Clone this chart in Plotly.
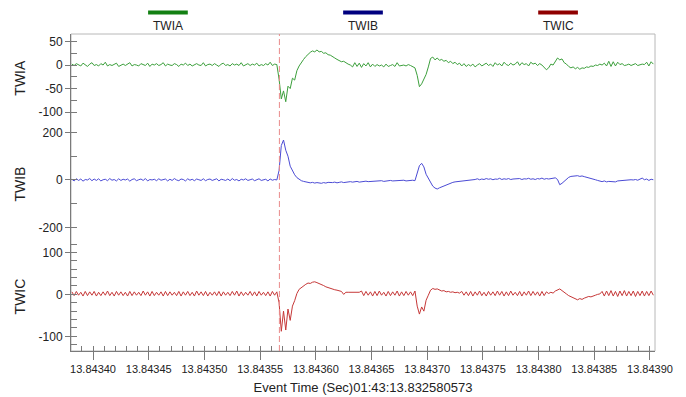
import numpy as np
import plotly.graph_objects as go

# ---- record data -----------------------------------------------------------
T0 = 13.843381        # time of first sample (s)
DT = 2e-6             # sample interval (s)
TRIGGER = 13.8435673  # trigger instant (s)

CHANNELS = ["TWIA", "TWIB", "TWIC"]

twia = [
    2, -1, 3, 0, -2, 4, 1, -3, 2, 5,
    -1, 1, -2, 3, 0, 6, -2, 1, -1, 2,
    4, -3, 0, 2, -1, 3, 5, -2, 1, 0,
    -2, 3, 1, -1, 4, -3, 2, 0, 3, -1,
    1, 5, -2, 2, 0, -1, 3, 1, -3, 2,
    0, 4, -1, 2, -2, 1, 3, 0, -1, 5,
    -2, 1, 2, -1, 3, 0, -3, 2, 4, -1,
    1, -2, 3, 0, 2, -1, 5, -2, 1, 3,
    -1, 2, 0, 4, -2, 1, -1, 3, 0, 6,
    -1, 2, 1, -30, -72, -55, -78, -45, -50, -28,
    -32, -12, -2, 6, 12, 18, 23, 27, 30, 28,
    32, 28, 29, 25, 26, 22, 21, 17, 15, 12,
    10, 7, 8, 4, 2, 0, -4, 5, -3, 4,
    -5, 3, -2, 5, -4, 2, -3, 1, -2, 0,
    -4, 2, -3, -1, 1, -3, 5, -2, -1, 0,
    -2, 1, -1, -3, -6, -22, -46, -40, -30, -20,
    -4, 14, 17, 11, 15, 10, 12, 8, 10, 5,
    8, 3, 6, 1, 4, -2, 3, -3, 1, -2,
    2, -4, 0, 3, -2, 1, 4, -1, 2, -3,
    5, 0, 3, -2, 6, 1, -1, 4, 0, 2,
    7, -1, 5, 1, 3, -2, 6, 2, 4, -1,
    3, 0, -5, -10, -6, 2, 0, 8, 15, 11,
    13, 5, 2, -3, -6, -4, -8, -5, -9, -6,
    -7, -4, -5, -2, -3, 0, -1, 2, 0, 4,
    -2, 8, -3, 7, -2, 6, 1, 3, -1, 0,
    2, -1, 1, 3, -1, 0, 2, 1, 6, -2,
    7, 2,
]

twib = [
    3, -4, 5, -2, 4, -5, 2, 0, 6, -3,
    4, -2, 5, -4, 1, 3, -3, 6, -1, 2,
    -4, 5, -2, 3, 0, 4, -5, 2, 5, -3,
    1, 4, -2, 6, -4, 2, 0, 3, -3, 5,
    -1, 2, 4, -4, 3, -2, 6, 0, -3, 4,
    2, -4, 5, -1, 3, -3, 4, 1, -2, 5,
    -3, 2, 4, -2, 0, 5, -4, 3, 1, -2,
    4, -3, 6, -1, 2, -4, 3, 0, 5, -2,
    1, 4, -3, 2, 5, -2, 0, 3, -4, 4,
    -1, 2, 0, 40, 145, 168, 125, 100, 58, 36,
    22, 10, 3, -3, -6, -9, -11, -12, -10, -13,
    -11, -12, -14, -11, -13, -10, -12, -11, -9, -12,
    -10, -8, -11, -9, -10, -7, -9, -8, -6, -9,
    -7, -8, -5, -7, -6, -8, -4, -6, -5, -3,
    -6, -4, -5, -2, -4, -3, -5, -2, -3, -1,
    -4, -2, -3, -1, -3, 25, 60, 70, 55, 24,
    5, -10, -26, -34, -38, -33, -29, -24, -20, -16,
    -12, -10, -8, -7, -5, -6, -3, -4, -2, -1,
    0, 2, 5, 1, 4, 2, 6, 3, 5, 1,
    4, 3, 7, 2, 5, 3, 6, 2, 4, 5,
    3, 6, 2, 5, 4, 7, 3, 5, 2, 6,
    4, 8, 3, 6, 4, 5, 7, 9, 2, -20,
    -14, -6, 4, 11, 15, 17, 16, 18, 15, 17,
    14, 12, 9, 6, 3, 1, -2, -5, -7, -4,
    -8, -6, -7, -5, -8, -4, -3, -1, -2, 0,
    -1, 1, 0, 2, -1, 3, 8, 1, 4, -2,
    3, 1,
]

twic = [
    6, -3, 7, -2, 5, -4, 7, -3, 6, -2,
    7, -4, 5, -3, 6, -2, 8, -3, 5, -4,
    7, -2, 6, -3, 5, -4, 7, -3, 6, -2,
    5, -3, 8, -2, 6, -4, 7, -3, 5, -2,
    6, -4, 7, -3, 6, -2, 5, -3, 7, -4,
    6, -2, 7, -3, 5, -4, 8, -2, 6, -3,
    7, -4, 5, -2, 6, -3, 7, -4, 6, -2,
    5, -3, 7, -2, 8, -4, 6, -3, 5, -2,
    7, -3, 6, -4, 7, -2, 5, -3, 6, -4,
    7, -2, 6, -20, -88, -40, -85, -35, -62, -28,
    -15, 2, 12, 16, 22, 24, 27, 26, 29, 30,
    28, 26, 24, 21, 18, 16, 15, 13, 11, 10,
    8, 7, 0, 5, 5, 5, 5, 5, 5, 5,
    8, -3, 7, -2, 6, -4, 7, -3, 8, -2,
    5, -4, 7, -3, 6, -2, 8, -4, 6, -3,
    7, -2, 6, -3, 8, -28, -47, -30, -40, -14,
    -2, 10, 14, 12, 13, 10, 8, 9, 6, 7,
    5, 6, 4, 5, 3, 7, -2, 6, -3, 7,
    -4, 6, -2, 8, -3, 5, -4, 7, -2, 6,
    -3, 8, -2, 7, -4, 6, -3, 8, -2, 5,
    -3, 7, -4, 6, -2, 8, -3, 7, -2, 6,
    -4, 7, -3, 6, 2, 5, 3, 8, 10, 13,
    9, 4, 1, -3, -6, -9, -11, -13, -10, -12,
    -9, -7, -5, -6, -3, -2, 0, 1, 7, -4,
    8, -3, 9, -4, 7, -5, 8, -3, 9, -4,
    7, -3, 8, -5, 7, -3, 8, -4, 7, -3,
    8, -2,
]

SERIES = [twia, twib, twic]

# per-channel vertical scaling and labelled ticks
Y_RANGES = [[-118, 66], [-250, 250], [-135, 131]]
Y_TICKS = [[50, 0, -50, -100], [200, 0, -200], [100, 0, -100]]
Y_MINOR = [25, 100, 20]
Y_DOMAINS = [[0.727, 1.0], [0.352, 0.727], [0.0, 0.352]]

X_RANGE = [13.8433802, 13.8439045]
X_TITLE = "Event Time (Sec)01:43:13.832580573"

LINE_COLORS = ["#3c9f3c", "#4b4bd4", "#c63838"]
KEY_COLORS = ["#138013", "#00007f", "#8f0000"]

FONT = "Liberation Sans, Arial, sans-serif"
AXIS_GREY = "#7a7a7a"
FRAME_GREY = "#b8b8b8"

# ---- figure ----------------------------------------------------------------
fig = go.Figure()

axis_names = ["y", "y2", "y3"]
for name, vals, color, yname in zip(CHANNELS, SERIES, LINE_COLORS, axis_names):
    t = T0 + DT * np.arange(len(vals))
    fig.add_trace(go.Scatter(
        x=t, y=vals, mode="lines", name=name, yaxis=yname, xaxis="x",
        line=dict(color=color, width=1), showlegend=False,
        hoverinfo="skip",
    ))

layout_axes = {}
for k, yname in enumerate(axis_names):
    key = "yaxis" if k == 0 else f"yaxis{k + 1}"
    layout_axes[key] = dict(
        domain=Y_DOMAINS[k], range=Y_RANGES[k], anchor="x", automargin=False,
        tickmode="array", tickvals=Y_TICKS[k],
        ticktext=[str(v) for v in Y_TICKS[k]],
        showline=True, linecolor=AXIS_GREY, linewidth=1,
        ticks="outside", ticklen=5, tickcolor=AXIS_GREY, tickwidth=1,
        minor=dict(ticks="inside", ticklen=6, dtick=Y_MINOR[k],
                   tick0=0, tickcolor=AXIS_GREY, showgrid=False),
        showgrid=False, zeroline=False,
        tickfont=dict(family=FONT, size=12, color="#222222"),
    )

fig.update_layout(
    width=686, height=397,
    margin=dict(l=71, r=31, t=34, b=46),
    paper_bgcolor="white", plot_bgcolor="white",
    font=dict(family=FONT, color="#222222"),
    xaxis=dict(
        domain=[0, 1], range=X_RANGE, anchor="y3", automargin=False,
        tickmode="linear", tick0=13.8434, dtick=5e-5, tickformat=".5f",
        showline=True, linecolor=AXIS_GREY, linewidth=1,
        ticks="outside", ticklen=8, tickcolor=AXIS_GREY,
        minor=dict(ticks="inside", ticklen=5, dtick=1e-5,
                   tickcolor=AXIS_GREY, showgrid=False),
        showgrid=False, zeroline=False,
        tickfont=dict(family=FONT, size=11, color="#222222"),
        title=dict(text=X_TITLE, standoff=8,
                   font=dict(family=FONT, size=13, color="#222222")),
    ),
    **layout_axes,
)

# plot frame and trigger marker
fig.add_shape(type="rect", xref="paper", yref="paper", x0=0, x1=1, y0=0, y1=1,
              line=dict(color=FRAME_GREY, width=1), layer="below")
fig.add_shape(type="line", xref="x", yref="paper", x0=TRIGGER, x1=TRIGGER,
              y0=0, y1=1, line=dict(color="#e98a8a", width=1, dash="6px,3px"))

# channel titles on the left
title_y = [0.861, 0.527, 0.171]
for name, ty in zip(CHANNELS, title_y):
    fig.add_annotation(text=name, xref="paper", yref="paper", x=-0.088, y=ty,
                       textangle=-90, showarrow=False, xanchor="center",
                       yanchor="middle",
                       font=dict(family=FONT, size=14, color="#222222"))

# channel key across the top
key_x = [0.166, 0.5, 0.834]
for name, kx, kc in zip(CHANNELS, key_x, KEY_COLORS):
    fig.add_shape(type="line", xref="paper", yref="paper",
                  x0=kx - 0.034, x1=kx + 0.034, y0=1.068, y1=1.068,
                  line=dict(color=kc, width=4))
    fig.add_annotation(text=name, xref="paper", yref="paper", x=kx, y=1.025,
                       showarrow=False, xanchor="center", yanchor="middle",
                       font=dict(family=FONT, size=12, color="#222222"))

fig.write_html("out.html")
